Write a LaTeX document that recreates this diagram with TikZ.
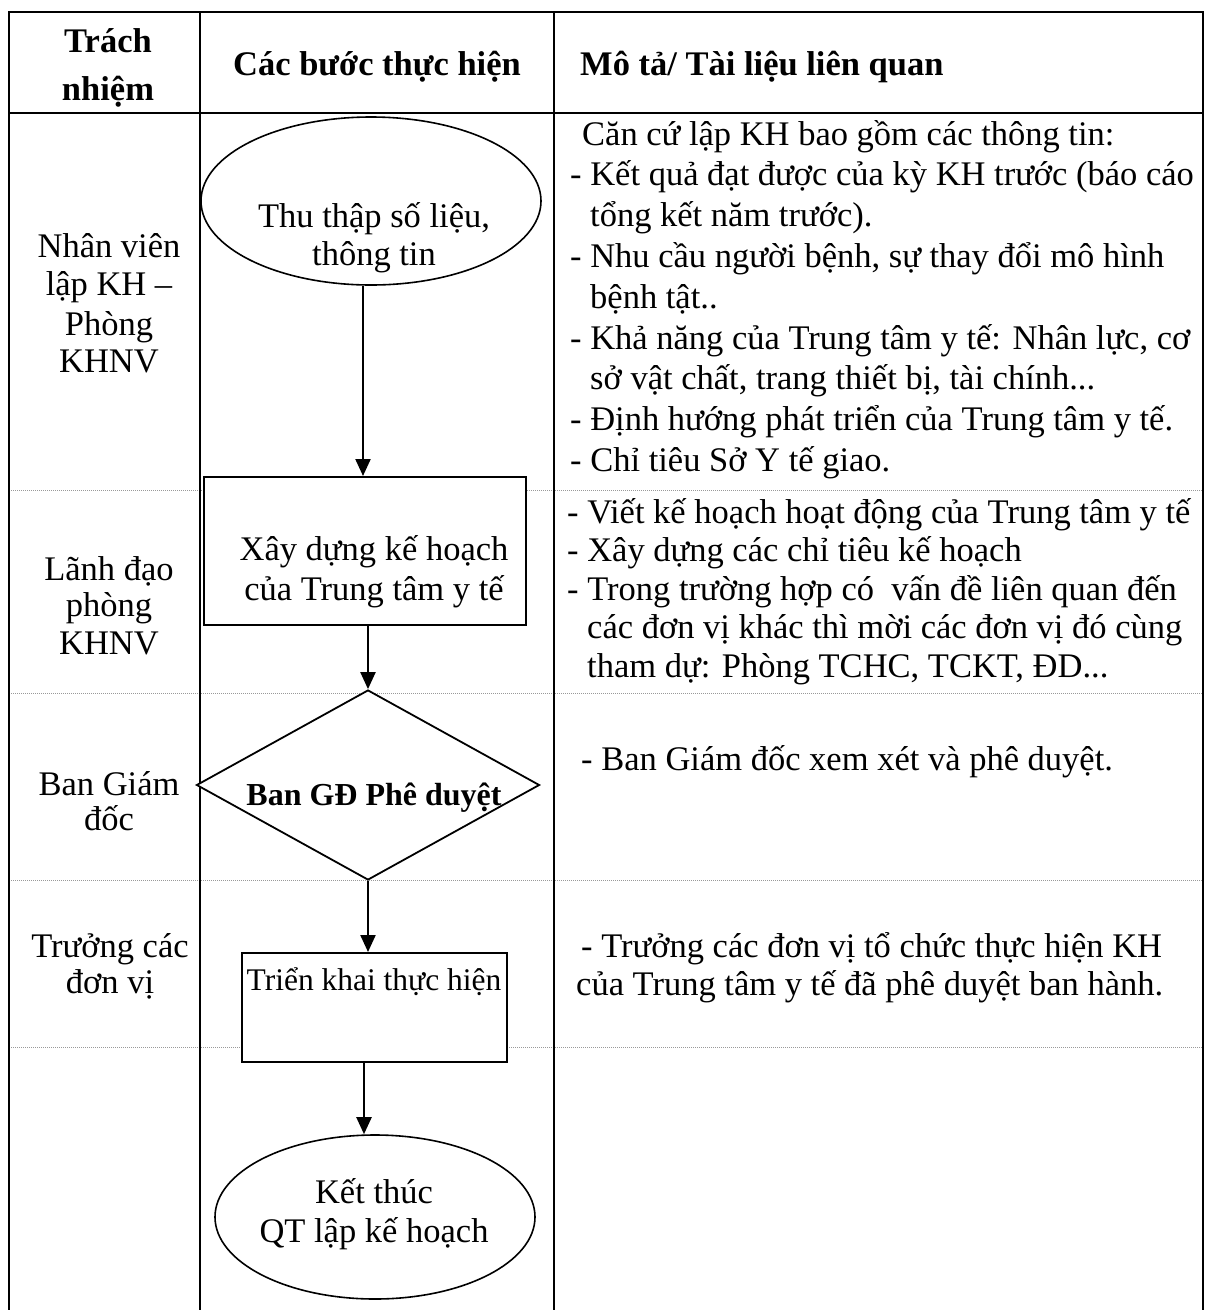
\documentclass[tikz,border=0pt]{standalone}
\usepackage{fontspec}
\setmainfont{Liberation Serif}
\usetikzlibrary{shapes.geometric,arrows.meta}
\begin{document}
\begin{tikzpicture}[x=1pt,y=-1pt,
  txt/.style={inner sep=0pt, font=\fontsize{34.5}{40}\selectfont},
  lt/.style={txt, anchor=base west},
  ct/.style={txt, anchor=base},
  hd/.style={inner sep=0pt, font=\fontsize{34.5}{40}\selectfont\bfseries},
  tline/.style={line width=2.4pt},
  rowsep/.style={line width=1pt, gray!80, dash pattern=on 1pt off 1pt},
  shp/.style={draw, fill=white, inner sep=0pt},
  arr/.style={line width=2.2pt, -{Triangle[length=17pt,width=15pt]}}
]
\useasboundingbox (0,0) rectangle (1211,1310);
% row separators
\foreach \yy/\nm in {490/sa,693/sb,880/sc,1047/sd} {
  \coordinate (\nm L) at (9,\yy); \coordinate (\nm R) at (1203,\yy);
  \draw[rowsep] (\nm L) -- (\nm R);
}
% frame
\coordinate (TL) at (9,12); \coordinate (TR) at (1203,12);
\coordinate (BL) at (9,1310); \coordinate (BR) at (1203,1310);
\coordinate (HL) at (9,113); \coordinate (HR) at (1203,113);
\coordinate (C1T) at (200,12); \coordinate (C1B) at (200,1310);
\coordinate (C2T) at (554,12); \coordinate (C2B) at (554,1310);
\draw[tline] (BL) -- (TL) -- (TR) -- (BR);
\draw[tline] (HL) -- (HR);
\draw[tline] (C1T) -- (C1B);
\draw[tline] (C2T) -- (C2B);

% shapes
\node[shp, ellipse, line width=1.6pt, minimum width=340pt, minimum height=168pt] (e1) at (371,201) {};
\node[shp, rectangle, line width=2pt, minimum width=322pt, minimum height=148pt] (b1) at (365,551) {};
\node[shp, diamond, line width=1.8pt, minimum width=343pt, minimum height=190pt] (d1) at (368,785) {};
\node[shp, rectangle, line width=2pt, minimum width=265pt, minimum height=109pt] (b2) at (374.5,1007.5) {};
\node[shp, ellipse, line width=1.6pt, minimum width=320pt, minimum height=164pt] (e2) at (375,1217) {};

% arrows
\coordinate (a1) at (363,0);
\coordinate (a4) at (364,0);
\draw[arr] (e1.south -| a1) -- (b1.north -| a1);
\draw[arr] (b1.south -| d1.north) -- (d1.north);
\draw[arr] (d1.south) -- (b2.north -| d1.south);
\draw[arr] (b2.south -| a4) -- (e2.north -| a4);

% texts in shapes
\node[ct] (t1a) at (374,227) {Thu thập số liệu,};
\node[ct] (t1b) at (374,265) {thông tin};
\node[ct] (t2a) at (374,560) {Xây dựng kế hoạch};
\node[ct] (t2b) at (374,600) {của Trung tâm y tế};
\node[inner sep=0pt, anchor=base, font=\fontsize{32}{38}\selectfont\bfseries] (t3) at (374,805) {Ban GĐ Phê duyệt};
\node[inner sep=0pt, anchor=base, font=\fontsize{31.5}{38}\selectfont] (t4) at (374,990) {Triển khai thực hiện};
\node[ct] (t5a) at (374,1203) {Kết thúc};
\node[ct] (t5b) at (374,1242) {QT lập kế hoạch};

% header
\node[hd, anchor=base] (h1a) at (108,52) {Trách};
\node[hd, anchor=base] (h1b) at (108,100) {nhiệm};
\node[hd, anchor=base] (h2) at (377,75) {Các bước thực hiện};
\node[hd, anchor=base west] (h3) at (580,75) {Mô tả/ Tài liệu liên quan};

% left column
\foreach \t/\yy [count=\i] in {Nhân viên/257, lập KH –/295, Phòng/335, KHNV/372}
  \node[ct] (la\i) at (109,\yy) {\t};
\foreach \t/\yy [count=\i] in {Lãnh đạo/580, phòng/616, KHNV/654}
  \node[ct] (lb\i) at (109,\yy) {\t};
\foreach \t/\yy [count=\i] in {Ban Giám/795, đốc/830}
  \node[ct] (lc\i) at (109,\yy) {\t};
\foreach \t/\yy [count=\i] in {Trưởng các/957, đơn vị/993}
  \node[ct] (ld\i) at (110,\yy) {\t};

% right column
\foreach \xx/\t [count=\i] in {
  582/{Căn cứ lập KH bao gồm các thông tin:},
  570/{- Kết quả đạt được của kỳ KH trước (báo cáo},
  590/{tổng kết năm trước).},
  570/{- Nhu cầu người bệnh, sự thay đổi mô hình},
  590/{bệnh tật..},
  570/{- Khả năng của Trung tâm y tế: Nhân lực, cơ},
  590/{sở vật chất, trang thiết bị, tài chính...},
  570/{- Định hướng phát triển của Trung tâm y tế.},
  570/{- Chỉ tiêu Sở Y tế giao.}}
  \node[lt] (ra\i) at (\xx,{145+40.8*(\i-1)}) {\t};
\foreach \xx/\t [count=\i] in {
  567/{- Viết kế hoạch hoạt động của Trung tâm y tế},
  567/{- Xây dựng các chỉ tiêu kế hoạch},
  567/{- Trong trường hợp có \ vấn đề liên quan đến},
  587/{các đơn vị khác thì mời các đơn vị đó cùng},
  587/{tham dự: Phòng TCHC, TCKT, ĐD...}}
  \node[lt] (rb\i) at (\xx,{523+38.5*(\i-1)}) {\t};
\node[lt] (rc1) at (581,770) {- Ban Giám đốc xem xét và phê duyệt.};
\node[lt] (rd1) at (581,957) {- Trưởng các đơn vị tổ chức thực hiện KH};
\node[lt] (rd2) at (576,995) {của Trung tâm y tế đã phê duyệt ban hành.};
\end{tikzpicture}
\end{document}
